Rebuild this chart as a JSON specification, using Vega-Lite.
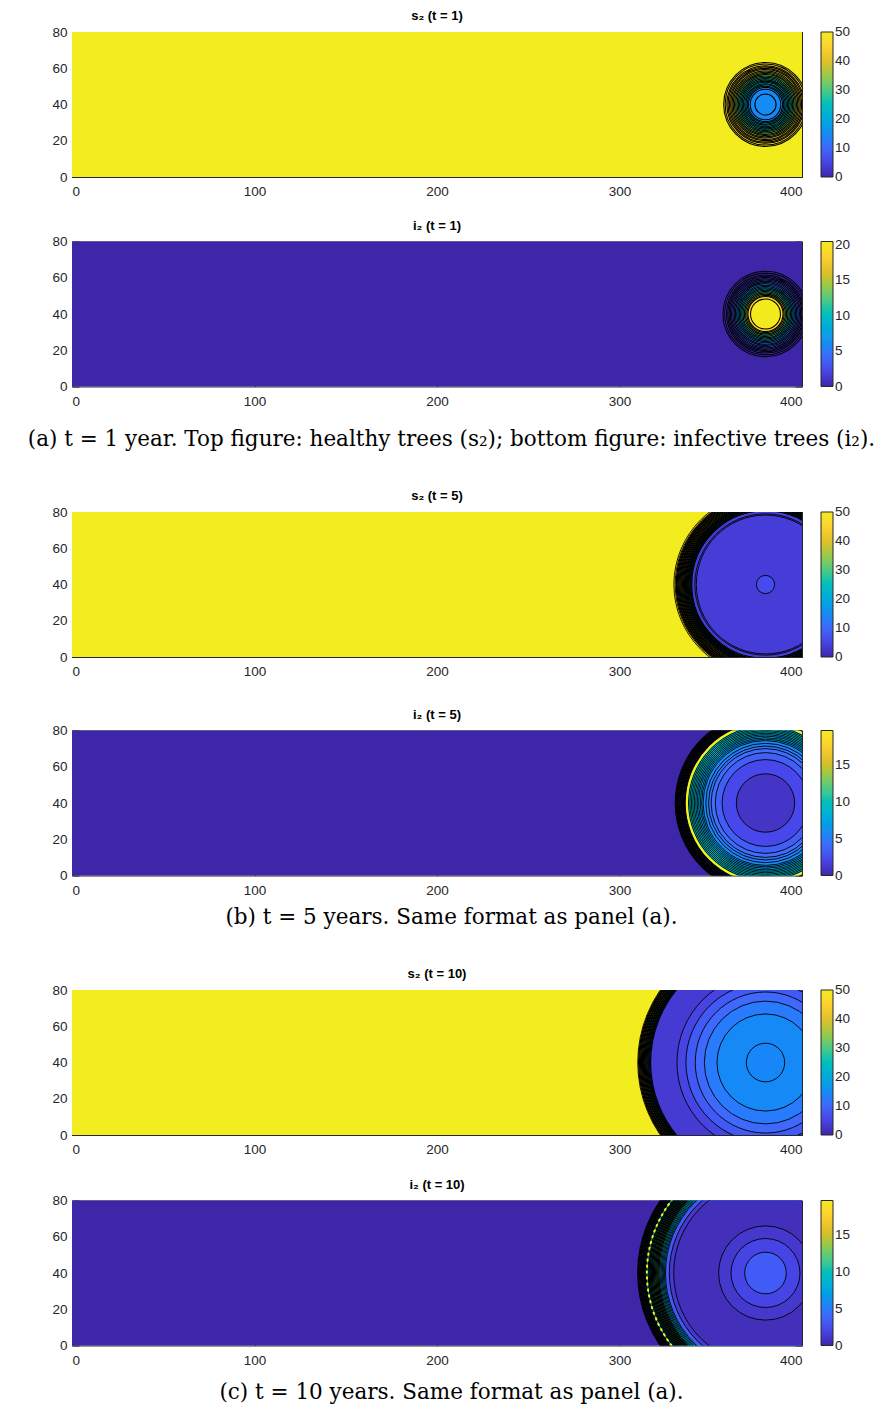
{
  "$schema": "https://vega.github.io/schema/vega-lite/v6.json",
  "background": "white",
  "padding": {"left": 27, "top": 10, "right": 5, "bottom": 5},
  "datasets": {
    "p1": [
      {"k": "bg", "x0": 0, "x1": 400, "y0": 0, "y1": 80, "v": 50},
      {"k": "disk", "cx": 380, "cy": 40, "r": 23.0, "v": 48},
      {"k": "disk", "cx": 380, "cy": 40, "r": 21.5, "v": 43},
      {"k": "disk", "cx": 380, "cy": 40, "r": 19.0, "v": 37},
      {"k": "disk", "cx": 380, "cy": 40, "r": 16.5, "v": 31},
      {"k": "disk", "cx": 380, "cy": 40, "r": 14.0, "v": 25},
      {"k": "disk", "cx": 380, "cy": 40, "r": 11.5, "v": 20},
      {"k": "disk", "cx": 380, "cy": 40, "r": 9.0, "v": 16},
      {"k": "disk", "cx": 380, "cy": 40, "r": 8.4, "v": 14},
      {"k": "disk", "cx": 380, "cy": 40, "r": 5.8, "v": 15},
      {"k": "line", "cx": 380, "cy": 40, "r": 22.9},
      {"k": "line", "cx": 380, "cy": 40, "r": 22.1},
      {"k": "line", "cx": 380, "cy": 40, "r": 21.2},
      {"k": "line", "cx": 380, "cy": 40, "r": 20.5},
      {"k": "line", "cx": 380, "cy": 40, "r": 19.8},
      {"k": "line", "cx": 380, "cy": 40, "r": 19.1},
      {"k": "line", "cx": 380, "cy": 40, "r": 18.4},
      {"k": "line", "cx": 380, "cy": 40, "r": 17.7},
      {"k": "line", "cx": 380, "cy": 40, "r": 17.0},
      {"k": "line", "cx": 380, "cy": 40, "r": 16.3},
      {"k": "line", "cx": 380, "cy": 40, "r": 15.6},
      {"k": "line", "cx": 380, "cy": 40, "r": 14.9},
      {"k": "line", "cx": 380, "cy": 40, "r": 14.2},
      {"k": "line", "cx": 380, "cy": 40, "r": 13.5},
      {"k": "line", "cx": 380, "cy": 40, "r": 12.8},
      {"k": "line", "cx": 380, "cy": 40, "r": 12.1},
      {"k": "line", "cx": 380, "cy": 40, "r": 11.4},
      {"k": "line", "cx": 380, "cy": 40, "r": 10.7},
      {"k": "line", "cx": 380, "cy": 40, "r": 10.0},
      {"k": "line", "cx": 380, "cy": 40, "r": 9.3},
      {"k": "line", "cx": 380, "cy": 40, "r": 8.4},
      {"k": "line", "cx": 380, "cy": 40, "r": 5.8}
    ],
    "p2": [
      {"k": "bg", "x0": 0, "x1": 400, "y0": 0, "y1": 80, "v": 0},
      {"k": "disk", "cx": 380, "cy": 40, "r": 23.3, "v": 0.3},
      {"k": "disk", "cx": 380, "cy": 40, "r": 21.0, "v": 1.5},
      {"k": "disk", "cx": 380, "cy": 40, "r": 18.5, "v": 4},
      {"k": "disk", "cx": 380, "cy": 40, "r": 16.0, "v": 7.5},
      {"k": "disk", "cx": 380, "cy": 40, "r": 13.5, "v": 11.5},
      {"k": "disk", "cx": 380, "cy": 40, "r": 11.0, "v": 15.5},
      {"k": "disk", "cx": 380, "cy": 40, "r": 9.6, "v": 18.5},
      {"k": "disk", "cx": 380, "cy": 40, "r": 8.2, "v": 20.4},
      {"k": "line", "cx": 380, "cy": 40, "r": 23.3},
      {"k": "line", "cx": 380, "cy": 40, "r": 22.4},
      {"k": "line", "cx": 380, "cy": 40, "r": 21.4},
      {"k": "line", "cx": 380, "cy": 40, "r": 20.7},
      {"k": "line", "cx": 380, "cy": 40, "r": 20.0},
      {"k": "line", "cx": 380, "cy": 40, "r": 19.3},
      {"k": "line", "cx": 380, "cy": 40, "r": 18.6},
      {"k": "line", "cx": 380, "cy": 40, "r": 17.9},
      {"k": "line", "cx": 380, "cy": 40, "r": 17.2},
      {"k": "line", "cx": 380, "cy": 40, "r": 16.5},
      {"k": "line", "cx": 380, "cy": 40, "r": 15.8},
      {"k": "line", "cx": 380, "cy": 40, "r": 15.1},
      {"k": "line", "cx": 380, "cy": 40, "r": 14.4},
      {"k": "line", "cx": 380, "cy": 40, "r": 13.7},
      {"k": "line", "cx": 380, "cy": 40, "r": 13.0},
      {"k": "line", "cx": 380, "cy": 40, "r": 12.3},
      {"k": "line", "cx": 380, "cy": 40, "r": 11.6},
      {"k": "line", "cx": 380, "cy": 40, "r": 10.9},
      {"k": "line", "cx": 380, "cy": 40, "r": 10.2},
      {"k": "line", "cx": 380, "cy": 40, "r": 9.6},
      {"k": "line", "cx": 380, "cy": 40, "r": 8.2}
    ],
    "p3": [
      {"k": "bg", "x0": 0, "x1": 400, "y0": 0, "y1": 80, "v": 50},
      {"k": "disk", "cx": 380, "cy": 40, "r": 50.2, "v": 47},
      {"k": "disk", "cx": 380, "cy": 40, "r": 47.0, "v": 38},
      {"k": "disk", "cx": 380, "cy": 40, "r": 44.0, "v": 22},
      {"k": "disk", "cx": 380, "cy": 40, "r": 41.5, "v": 10},
      {"k": "disk", "cx": 380, "cy": 40, "r": 40.0, "v": 4},
      {"k": "disk", "cx": 380, "cy": 40, "r": 5.0, "v": 6},
      {"k": "line", "cx": 380, "cy": 40, "r": 50.2},
      {"k": "line", "cx": 380, "cy": 40, "r": 49.5},
      {"k": "dense", "cx": 380, "cy": 40, "r": 48.9},
      {"k": "dense", "cx": 380, "cy": 40, "r": 48.4},
      {"k": "dense", "cx": 380, "cy": 40, "r": 47.9},
      {"k": "dense", "cx": 380, "cy": 40, "r": 47.4},
      {"k": "dense", "cx": 380, "cy": 40, "r": 46.9},
      {"k": "dense", "cx": 380, "cy": 40, "r": 46.4},
      {"k": "dense", "cx": 380, "cy": 40, "r": 45.9},
      {"k": "dense", "cx": 380, "cy": 40, "r": 45.4},
      {"k": "dense", "cx": 380, "cy": 40, "r": 44.9},
      {"k": "dense", "cx": 380, "cy": 40, "r": 44.4},
      {"k": "dense", "cx": 380, "cy": 40, "r": 43.9},
      {"k": "dense", "cx": 380, "cy": 40, "r": 43.4},
      {"k": "dense", "cx": 380, "cy": 40, "r": 42.9},
      {"k": "dense", "cx": 380, "cy": 40, "r": 42.4},
      {"k": "dense", "cx": 380, "cy": 40, "r": 41.9},
      {"k": "dense", "cx": 380, "cy": 40, "r": 41.4},
      {"k": "dense", "cx": 380, "cy": 40, "r": 40.9},
      {"k": "dense", "cx": 380, "cy": 40, "r": 40.4},
      {"k": "line", "cx": 380, "cy": 40, "r": 38.7},
      {"k": "line", "cx": 380, "cy": 40, "r": 37.9},
      {"k": "line", "cx": 380, "cy": 40, "r": 5.0}
    ],
    "p4": [
      {"k": "bg", "x0": 0, "x1": 400, "y0": 0, "y1": 80, "v": 0},
      {"k": "disk", "cx": 380, "cy": 40, "r": 49.5, "v": 0.6},
      {"k": "disk", "cx": 380, "cy": 40, "r": 46.0, "v": 2},
      {"k": "disk", "cx": 380, "cy": 40, "r": 43.5, "v": 12},
      {"k": "disk", "cx": 380, "cy": 40, "r": 42.5, "v": 9.5},
      {"k": "disk", "cx": 380, "cy": 40, "r": 38.0, "v": 7.5},
      {"k": "disk", "cx": 380, "cy": 40, "r": 34.5, "v": 5.8},
      {"k": "disk", "cx": 380, "cy": 40, "r": 32.7, "v": 5.0},
      {"k": "disk", "cx": 380, "cy": 40, "r": 30.3, "v": 4.3},
      {"k": "disk", "cx": 380, "cy": 40, "r": 27.5, "v": 3.4},
      {"k": "disk", "cx": 380, "cy": 40, "r": 23.8, "v": 2.2},
      {"k": "disk", "cx": 380, "cy": 40, "r": 16.0, "v": 1.0},
      {"k": "dense", "cx": 380, "cy": 40, "r": 49.4},
      {"k": "dense", "cx": 380, "cy": 40, "r": 48.9},
      {"k": "dense", "cx": 380, "cy": 40, "r": 48.4},
      {"k": "dense", "cx": 380, "cy": 40, "r": 47.9},
      {"k": "dense", "cx": 380, "cy": 40, "r": 47.4},
      {"k": "dense", "cx": 380, "cy": 40, "r": 46.9},
      {"k": "dense", "cx": 380, "cy": 40, "r": 46.4},
      {"k": "dense", "cx": 380, "cy": 40, "r": 45.9},
      {"k": "dense", "cx": 380, "cy": 40, "r": 45.4},
      {"k": "dense", "cx": 380, "cy": 40, "r": 44.9},
      {"k": "dense", "cx": 380, "cy": 40, "r": 44.4},
      {"k": "dense", "cx": 380, "cy": 40, "r": 43.9},
      {"k": "line", "cx": 380, "cy": 40, "r": 42.2},
      {"k": "line", "cx": 380, "cy": 40, "r": 41.4},
      {"k": "line", "cx": 380, "cy": 40, "r": 40.6},
      {"k": "line", "cx": 380, "cy": 40, "r": 39.8},
      {"k": "line", "cx": 380, "cy": 40, "r": 39.0},
      {"k": "line", "cx": 380, "cy": 40, "r": 38.2},
      {"k": "line", "cx": 380, "cy": 40, "r": 37.4},
      {"k": "line", "cx": 380, "cy": 40, "r": 36.6},
      {"k": "line", "cx": 380, "cy": 40, "r": 35.8},
      {"k": "line", "cx": 380, "cy": 40, "r": 35.0},
      {"k": "line", "cx": 380, "cy": 40, "r": 34.2},
      {"k": "line", "cx": 380, "cy": 40, "r": 32.7},
      {"k": "line", "cx": 380, "cy": 40, "r": 31.2},
      {"k": "line", "cx": 380, "cy": 40, "r": 29.8},
      {"k": "line", "cx": 380, "cy": 40, "r": 27.5},
      {"k": "line", "cx": 380, "cy": 40, "r": 23.8},
      {"k": "line", "cx": 380, "cy": 40, "r": 16.0},
      {"k": "yel", "cx": 380, "cy": 40, "r": 43.1}
    ],
    "p5": [
      {"k": "bg", "x0": 0, "x1": 400, "y0": 0, "y1": 80, "v": 50},
      {"k": "disk", "cx": 380, "cy": 40, "r": 70.0, "v": 46},
      {"k": "disk", "cx": 380, "cy": 40, "r": 67.0, "v": 30},
      {"k": "disk", "cx": 380, "cy": 40, "r": 64.5, "v": 12},
      {"k": "disk", "cx": 380, "cy": 40, "r": 63.0, "v": 3.5},
      {"k": "disk", "cx": 380, "cy": 40, "r": 48.5, "v": 5},
      {"k": "disk", "cx": 380, "cy": 40, "r": 43.6, "v": 8},
      {"k": "disk", "cx": 380, "cy": 40, "r": 38.5, "v": 10},
      {"k": "disk", "cx": 380, "cy": 40, "r": 33.5, "v": 12.5},
      {"k": "disk", "cx": 380, "cy": 40, "r": 26.6, "v": 14.5},
      {"k": "disk", "cx": 380, "cy": 40, "r": 10.5, "v": 14},
      {"k": "line", "cx": 380, "cy": 40, "r": 70.0},
      {"k": "dense", "cx": 380, "cy": 40, "r": 69.5},
      {"k": "dense", "cx": 380, "cy": 40, "r": 69.0},
      {"k": "dense", "cx": 380, "cy": 40, "r": 68.5},
      {"k": "dense", "cx": 380, "cy": 40, "r": 68.0},
      {"k": "dense", "cx": 380, "cy": 40, "r": 67.5},
      {"k": "dense", "cx": 380, "cy": 40, "r": 67.0},
      {"k": "dense", "cx": 380, "cy": 40, "r": 66.5},
      {"k": "dense", "cx": 380, "cy": 40, "r": 66.0},
      {"k": "dense", "cx": 380, "cy": 40, "r": 65.5},
      {"k": "dense", "cx": 380, "cy": 40, "r": 65.0},
      {"k": "dense", "cx": 380, "cy": 40, "r": 64.5},
      {"k": "dense", "cx": 380, "cy": 40, "r": 64.0},
      {"k": "dense", "cx": 380, "cy": 40, "r": 63.5},
      {"k": "dense", "cx": 380, "cy": 40, "r": 63.0},
      {"k": "line", "cx": 380, "cy": 40, "r": 48.5},
      {"k": "line", "cx": 380, "cy": 40, "r": 43.6},
      {"k": "line", "cx": 380, "cy": 40, "r": 38.5},
      {"k": "line", "cx": 380, "cy": 40, "r": 33.5},
      {"k": "line", "cx": 380, "cy": 40, "r": 26.6},
      {"k": "line", "cx": 380, "cy": 40, "r": 10.5}
    ],
    "p6": [
      {"k": "bg", "x0": 0, "x1": 400, "y0": 0, "y1": 80, "v": 0},
      {"k": "disk", "cx": 380, "cy": 40, "r": 70.0, "v": 0.5},
      {"k": "disk", "cx": 380, "cy": 40, "r": 67.0, "v": 2.5},
      {"k": "disk", "cx": 380, "cy": 40, "r": 65.5, "v": 10},
      {"k": "disk", "cx": 380, "cy": 40, "r": 62.0, "v": 12},
      {"k": "disk", "cx": 380, "cy": 40, "r": 58.0, "v": 8},
      {"k": "disk", "cx": 380, "cy": 40, "r": 55.0, "v": 3},
      {"k": "disk", "cx": 380, "cy": 40, "r": 52.7, "v": 1.2},
      {"k": "disk", "cx": 380, "cy": 40, "r": 50.3, "v": 0.6},
      {"k": "disk", "cx": 380, "cy": 40, "r": 25.7, "v": 1.2},
      {"k": "disk", "cx": 380, "cy": 40, "r": 18.9, "v": 2.0},
      {"k": "disk", "cx": 380, "cy": 40, "r": 11.4, "v": 3.3},
      {"k": "dense", "cx": 380, "cy": 40, "r": 70.0},
      {"k": "dense", "cx": 380, "cy": 40, "r": 69.5},
      {"k": "dense", "cx": 380, "cy": 40, "r": 69.0},
      {"k": "dense", "cx": 380, "cy": 40, "r": 68.5},
      {"k": "dense", "cx": 380, "cy": 40, "r": 68.0},
      {"k": "dense", "cx": 380, "cy": 40, "r": 67.5},
      {"k": "dense", "cx": 380, "cy": 40, "r": 67.0},
      {"k": "dense", "cx": 380, "cy": 40, "r": 66.5},
      {"k": "dense", "cx": 380, "cy": 40, "r": 66.0},
      {"k": "dense", "cx": 380, "cy": 40, "r": 65.5},
      {"k": "dense", "cx": 380, "cy": 40, "r": 64.4},
      {"k": "dense", "cx": 380, "cy": 40, "r": 63.8},
      {"k": "dense", "cx": 380, "cy": 40, "r": 63.2},
      {"k": "dense", "cx": 380, "cy": 40, "r": 62.6},
      {"k": "dense", "cx": 380, "cy": 40, "r": 62.0},
      {"k": "dense", "cx": 380, "cy": 40, "r": 61.4},
      {"k": "dense", "cx": 380, "cy": 40, "r": 60.8},
      {"k": "dense", "cx": 380, "cy": 40, "r": 60.2},
      {"k": "dense", "cx": 380, "cy": 40, "r": 59.6},
      {"k": "dense", "cx": 380, "cy": 40, "r": 59.0},
      {"k": "dense", "cx": 380, "cy": 40, "r": 58.4},
      {"k": "line", "cx": 380, "cy": 40, "r": 57.8},
      {"k": "line", "cx": 380, "cy": 40, "r": 57.2},
      {"k": "line", "cx": 380, "cy": 40, "r": 56.6},
      {"k": "line", "cx": 380, "cy": 40, "r": 56.0},
      {"k": "line", "cx": 380, "cy": 40, "r": 55.4},
      {"k": "line", "cx": 380, "cy": 40, "r": 54.8},
      {"k": "line", "cx": 380, "cy": 40, "r": 52.7},
      {"k": "line", "cx": 380, "cy": 40, "r": 50.3},
      {"k": "line", "cx": 380, "cy": 40, "r": 25.7},
      {"k": "line", "cx": 380, "cy": 40, "r": 18.9},
      {"k": "line", "cx": 380, "cy": 40, "r": 11.4},
      {"k": "ydash", "cx": 380, "cy": 40, "r": 65.0}
    ]
  },
  "spacing": 39,
  "resolve": {"scale": {"color": "independent", "x": "independent", "y": "independent", "size": "independent"}, "legend": {"color": "independent"}},
  "vconcat": [
    {
      "title": {"text": "(a) t = 1 year. Top figure: healthy trees (s₂); bottom figure: infective trees (i₂).", "orient": "bottom", "offset": 21.5, "font": "DejaVu Serif", "fontSize": 21.5, "fontWeight": "normal"},
      "spacing": 21.5,
      "resolve": {"scale": {"color": "independent", "x": "independent", "y": "independent", "size": "independent"}, "legend": {"color": "independent"}},
      "vconcat": [
        {
          "width": 730, "height": 145,
          "title": "s₂ (t = 1)",
          "data": {"name": "p1"},
          "resolve": {"axis": {"x": "independent", "y": "independent"}},
          "layer": [
            {"transform": [{"filter": "datum.k === 'bg'"}], "mark": {"type": "rect"},
             "encoding": {
               "x": {"field": "x0", "type": "quantitative", "scale": {"domain": [0, 400], "nice": false, "zero": false}, "axis": {"orient": "bottom", "values": [0, 100, 200, 300, 400], "title": null}},
               "x2": {"field": "x1"},
               "y": {"field": "y0", "type": "quantitative", "scale": {"domain": [0, 80], "nice": false, "zero": false}, "axis": {"orient": "left", "values": [0, 20, 40, 60, 80], "title": null}},
               "y2": {"field": "y1"},
               "color": {"field": "v", "type": "quantitative", "scale": {"domain": [0, 5.556, 11.111, 16.667, 22.222, 27.778, 33.333, 38.889, 44.444, 50], "range": ["#3E26A8", "#4747EB", "#3E6FFF", "#2796EB", "#08B5D0", "#31C69F", "#80CC59", "#DCBD29", "#FCCF30", "#F3EC1E"], "clamp": true}, "legend": {"values": [0, 10, 20, 30, 40, 50], "title": null, "encode": {"labels": {"update": {"baseline": {"value": "middle"}}}}}}
             }},
            {"transform": [{"filter": "datum.k === 'disk'"}], "mark": {"type": "point", "shape": "circle", "filled": true, "opacity": 1, "strokeWidth": 0, "clip": true},
             "encoding": {
               "x": {"field": "cx", "type": "quantitative", "scale": {"domain": [0, 400], "nice": false, "zero": false}, "axis": {"orient": "top", "labels": false, "values": [0, 100, 200, 300, 400], "title": null}},
               "y": {"field": "cy", "type": "quantitative", "scale": {"domain": [0, 80], "nice": false, "zero": false}, "axis": {"orient": "right", "labels": false, "values": [0, 20, 40, 60, 80], "title": null}},
               "size": {"field": "r", "type": "quantitative", "scale": {"type": "pow", "exponent": 2, "domain": [0, 100], "range": [0, 133225]}, "legend": null},
               "color": {"field": "v", "type": "quantitative"}
             }},
            {"transform": [{"filter": "datum.k === 'line'"}], "mark": {"type": "point", "shape": "circle", "filled": false, "opacity": 1, "stroke": "#000000", "strokeWidth": 1.05, "clip": true},
             "encoding": {
               "x": {"field": "cx", "type": "quantitative", "axis": null},
               "y": {"field": "cy", "type": "quantitative", "axis": null},
               "size": {"field": "r", "type": "quantitative", "legend": null}
             }}
          ]
        },
        {
          "width": 730, "height": 145,
          "title": "i₂ (t = 1)",
          "data": {"name": "p2"},
          "resolve": {"axis": {"x": "independent", "y": "independent"}},
          "layer": [
            {"transform": [{"filter": "datum.k === 'bg'"}], "mark": {"type": "rect"},
             "encoding": {
               "x": {"field": "x0", "type": "quantitative", "scale": {"domain": [0, 400], "nice": false, "zero": false}, "axis": {"orient": "bottom", "values": [0, 100, 200, 300, 400], "title": null}},
               "x2": {"field": "x1"},
               "y": {"field": "y0", "type": "quantitative", "scale": {"domain": [0, 80], "nice": false, "zero": false}, "axis": {"orient": "left", "values": [0, 20, 40, 60, 80], "title": null}},
               "y2": {"field": "y1"},
               "color": {"field": "v", "type": "quantitative", "scale": {"domain": [0, 2.272, 4.544, 6.817, 9.089, 11.361, 13.633, 15.906, 18.178, 20.45], "range": ["#3E26A8", "#4747EB", "#3E6FFF", "#2796EB", "#08B5D0", "#31C69F", "#80CC59", "#DCBD29", "#FCCF30", "#F3EC1E"], "clamp": true}, "legend": {"values": [0, 5, 10, 15, 20], "title": null, "encode": {"labels": {"update": {"baseline": {"value": "middle"}}}}}}
             }},
            {"transform": [{"filter": "datum.k === 'disk'"}], "mark": {"type": "point", "shape": "circle", "filled": true, "opacity": 1, "strokeWidth": 0, "clip": true},
             "encoding": {
               "x": {"field": "cx", "type": "quantitative", "scale": {"domain": [0, 400], "nice": false, "zero": false}, "axis": {"orient": "top", "labels": false, "values": [0, 100, 200, 300, 400], "title": null}},
               "y": {"field": "cy", "type": "quantitative", "scale": {"domain": [0, 80], "nice": false, "zero": false}, "axis": {"orient": "right", "labels": false, "values": [0, 20, 40, 60, 80], "title": null}},
               "size": {"field": "r", "type": "quantitative", "scale": {"type": "pow", "exponent": 2, "domain": [0, 100], "range": [0, 133225]}, "legend": null},
               "color": {"field": "v", "type": "quantitative"}
             }},
            {"transform": [{"filter": "datum.k === 'line'"}], "mark": {"type": "point", "shape": "circle", "filled": false, "opacity": 1, "stroke": "#000000", "strokeWidth": 1.05, "clip": true},
             "encoding": {
               "x": {"field": "cx", "type": "quantitative", "axis": null},
               "y": {"field": "cy", "type": "quantitative", "axis": null},
               "size": {"field": "r", "type": "quantitative", "legend": null}
             }}
          ]
        }
      ]
    },
    {
      "title": {"text": "(b) t = 5 years. Same format as panel (a).", "orient": "bottom", "offset": 10.5, "font": "DejaVu Serif", "fontSize": 21.5, "fontWeight": "normal"},
      "spacing": 30.5,
      "resolve": {"scale": {"color": "independent", "x": "independent", "y": "independent", "size": "independent"}, "legend": {"color": "independent"}},
      "vconcat": [
        {
          "width": 730, "height": 145,
          "title": "s₂ (t = 5)",
          "data": {"name": "p3"},
          "resolve": {"axis": {"x": "independent", "y": "independent"}},
          "layer": [
            {"transform": [{"filter": "datum.k === 'bg'"}], "mark": {"type": "rect"},
             "encoding": {
               "x": {"field": "x0", "type": "quantitative", "scale": {"domain": [0, 400], "nice": false, "zero": false}, "axis": {"orient": "bottom", "values": [0, 100, 200, 300, 400], "title": null}},
               "x2": {"field": "x1"},
               "y": {"field": "y0", "type": "quantitative", "scale": {"domain": [0, 80], "nice": false, "zero": false}, "axis": {"orient": "left", "values": [0, 20, 40, 60, 80], "title": null}},
               "y2": {"field": "y1"},
               "color": {"field": "v", "type": "quantitative", "scale": {"domain": [0, 5.556, 11.111, 16.667, 22.222, 27.778, 33.333, 38.889, 44.444, 50], "range": ["#3E26A8", "#4747EB", "#3E6FFF", "#2796EB", "#08B5D0", "#31C69F", "#80CC59", "#DCBD29", "#FCCF30", "#F3EC1E"], "clamp": true}, "legend": {"values": [0, 10, 20, 30, 40, 50], "title": null, "encode": {"labels": {"update": {"baseline": {"value": "middle"}}}}}}
             }},
            {"transform": [{"filter": "datum.k === 'disk'"}], "mark": {"type": "point", "shape": "circle", "filled": true, "opacity": 1, "strokeWidth": 0, "clip": true},
             "encoding": {
               "x": {"field": "cx", "type": "quantitative", "scale": {"domain": [0, 400], "nice": false, "zero": false}, "axis": {"orient": "top", "labels": false, "values": [0, 100, 200, 300, 400], "title": null}},
               "y": {"field": "cy", "type": "quantitative", "scale": {"domain": [0, 80], "nice": false, "zero": false}, "axis": {"orient": "right", "labels": false, "values": [0, 20, 40, 60, 80], "title": null}},
               "size": {"field": "r", "type": "quantitative", "scale": {"type": "pow", "exponent": 2, "domain": [0, 100], "range": [0, 133225]}, "legend": null},
               "color": {"field": "v", "type": "quantitative"}
             }},
            {"transform": [{"filter": "datum.k === 'line'"}], "mark": {"type": "point", "shape": "circle", "filled": false, "opacity": 1, "stroke": "#000000", "strokeWidth": 0.9, "clip": true},
             "encoding": {
               "x": {"field": "cx", "type": "quantitative", "axis": null},
               "y": {"field": "cy", "type": "quantitative", "axis": null},
               "size": {"field": "r", "type": "quantitative", "legend": null}
             }},
            {"transform": [{"filter": "datum.k === 'dense'"}], "mark": {"type": "point", "shape": "circle", "filled": false, "opacity": 1, "stroke": "#000000", "strokeWidth": 1.3, "clip": true},
             "encoding": {
               "x": {"field": "cx", "type": "quantitative", "axis": null},
               "y": {"field": "cy", "type": "quantitative", "axis": null},
               "size": {"field": "r", "type": "quantitative", "legend": null}
             }}
          ]
        },
        {
          "width": 730, "height": 145,
          "title": "i₂ (t = 5)",
          "data": {"name": "p4"},
          "resolve": {"axis": {"x": "independent", "y": "independent"}},
          "layer": [
            {"transform": [{"filter": "datum.k === 'bg'"}], "mark": {"type": "rect"},
             "encoding": {
               "x": {"field": "x0", "type": "quantitative", "scale": {"domain": [0, 400], "nice": false, "zero": false}, "axis": {"orient": "bottom", "values": [0, 100, 200, 300, 400], "title": null}},
               "x2": {"field": "x1"},
               "y": {"field": "y0", "type": "quantitative", "scale": {"domain": [0, 80], "nice": false, "zero": false}, "axis": {"orient": "left", "values": [0, 20, 40, 60, 80], "title": null}},
               "y2": {"field": "y1"},
               "color": {"field": "v", "type": "quantitative", "scale": {"domain": [0, 2.183, 4.367, 6.55, 8.733, 10.917, 13.1, 15.283, 17.467, 19.65], "range": ["#3E26A8", "#4747EB", "#3E6FFF", "#2796EB", "#08B5D0", "#31C69F", "#80CC59", "#DCBD29", "#FCCF30", "#F3EC1E"], "clamp": true}, "legend": {"values": [0, 5, 10, 15], "title": null, "encode": {"labels": {"update": {"baseline": {"value": "middle"}}}}}}
             }},
            {"transform": [{"filter": "datum.k === 'disk'"}], "mark": {"type": "point", "shape": "circle", "filled": true, "opacity": 1, "strokeWidth": 0, "clip": true},
             "encoding": {
               "x": {"field": "cx", "type": "quantitative", "scale": {"domain": [0, 400], "nice": false, "zero": false}, "axis": {"orient": "top", "labels": false, "values": [0, 100, 200, 300, 400], "title": null}},
               "y": {"field": "cy", "type": "quantitative", "scale": {"domain": [0, 80], "nice": false, "zero": false}, "axis": {"orient": "right", "labels": false, "values": [0, 20, 40, 60, 80], "title": null}},
               "size": {"field": "r", "type": "quantitative", "scale": {"type": "pow", "exponent": 2, "domain": [0, 100], "range": [0, 133225]}, "legend": null},
               "color": {"field": "v", "type": "quantitative"}
             }},
            {"transform": [{"filter": "datum.k === 'line'"}], "mark": {"type": "point", "shape": "circle", "filled": false, "opacity": 1, "stroke": "#000000", "strokeWidth": 0.9, "clip": true},
             "encoding": {
               "x": {"field": "cx", "type": "quantitative", "axis": null},
               "y": {"field": "cy", "type": "quantitative", "axis": null},
               "size": {"field": "r", "type": "quantitative", "legend": null}
             }},
            {"transform": [{"filter": "datum.k === 'dense'"}], "mark": {"type": "point", "shape": "circle", "filled": false, "opacity": 1, "stroke": "#000000", "strokeWidth": 1.3, "clip": true},
             "encoding": {
               "x": {"field": "cx", "type": "quantitative", "axis": null},
               "y": {"field": "cy", "type": "quantitative", "axis": null},
               "size": {"field": "r", "type": "quantitative", "legend": null}
             }},
            {"transform": [{"filter": "datum.k === 'yel'"}], "mark": {"type": "point", "shape": "circle", "filled": false, "opacity": 1, "stroke": "#F9F215", "strokeWidth": 2.2, "clip": true},
             "encoding": {
               "x": {"field": "cx", "type": "quantitative", "axis": null},
               "y": {"field": "cy", "type": "quantitative", "axis": null},
               "size": {"field": "r", "type": "quantitative", "legend": null}
             }}
          ]
        }
      ]
    },
    {
      "title": {"text": "(c) t = 10 years. Same format as panel (a).", "orient": "bottom", "offset": 15.5, "font": "DejaVu Serif", "fontSize": 21.5, "fontWeight": "normal"},
      "spacing": 22.5,
      "resolve": {"scale": {"color": "independent", "x": "independent", "y": "independent", "size": "independent"}, "legend": {"color": "independent"}},
      "vconcat": [
        {
          "width": 730, "height": 145,
          "title": "s₂ (t = 10)",
          "data": {"name": "p5"},
          "resolve": {"axis": {"x": "independent", "y": "independent"}},
          "layer": [
            {"transform": [{"filter": "datum.k === 'bg'"}], "mark": {"type": "rect"},
             "encoding": {
               "x": {"field": "x0", "type": "quantitative", "scale": {"domain": [0, 400], "nice": false, "zero": false}, "axis": {"orient": "bottom", "values": [0, 100, 200, 300, 400], "title": null}},
               "x2": {"field": "x1"},
               "y": {"field": "y0", "type": "quantitative", "scale": {"domain": [0, 80], "nice": false, "zero": false}, "axis": {"orient": "left", "values": [0, 20, 40, 60, 80], "title": null}},
               "y2": {"field": "y1"},
               "color": {"field": "v", "type": "quantitative", "scale": {"domain": [0, 5.556, 11.111, 16.667, 22.222, 27.778, 33.333, 38.889, 44.444, 50], "range": ["#3E26A8", "#4747EB", "#3E6FFF", "#2796EB", "#08B5D0", "#31C69F", "#80CC59", "#DCBD29", "#FCCF30", "#F3EC1E"], "clamp": true}, "legend": {"values": [0, 10, 20, 30, 40, 50], "title": null, "encode": {"labels": {"update": {"baseline": {"value": "middle"}}}}}}
             }},
            {"transform": [{"filter": "datum.k === 'disk'"}], "mark": {"type": "point", "shape": "circle", "filled": true, "opacity": 1, "strokeWidth": 0, "clip": true},
             "encoding": {
               "x": {"field": "cx", "type": "quantitative", "scale": {"domain": [0, 400], "nice": false, "zero": false}, "axis": {"orient": "top", "labels": false, "values": [0, 100, 200, 300, 400], "title": null}},
               "y": {"field": "cy", "type": "quantitative", "scale": {"domain": [0, 80], "nice": false, "zero": false}, "axis": {"orient": "right", "labels": false, "values": [0, 20, 40, 60, 80], "title": null}},
               "size": {"field": "r", "type": "quantitative", "scale": {"type": "pow", "exponent": 2, "domain": [0, 100], "range": [0, 133225]}, "legend": null},
               "color": {"field": "v", "type": "quantitative"}
             }},
            {"transform": [{"filter": "datum.k === 'line'"}], "mark": {"type": "point", "shape": "circle", "filled": false, "opacity": 1, "stroke": "#000000", "strokeWidth": 0.9, "clip": true},
             "encoding": {
               "x": {"field": "cx", "type": "quantitative", "axis": null},
               "y": {"field": "cy", "type": "quantitative", "axis": null},
               "size": {"field": "r", "type": "quantitative", "legend": null}
             }},
            {"transform": [{"filter": "datum.k === 'dense'"}], "mark": {"type": "point", "shape": "circle", "filled": false, "opacity": 1, "stroke": "#000000", "strokeWidth": 1.3, "clip": true},
             "encoding": {
               "x": {"field": "cx", "type": "quantitative", "axis": null},
               "y": {"field": "cy", "type": "quantitative", "axis": null},
               "size": {"field": "r", "type": "quantitative", "legend": null}
             }}
          ]
        },
        {
          "width": 730, "height": 145,
          "title": "i₂ (t = 10)",
          "data": {"name": "p6"},
          "resolve": {"axis": {"x": "independent", "y": "independent"}},
          "layer": [
            {"transform": [{"filter": "datum.k === 'bg'"}], "mark": {"type": "rect"},
             "encoding": {
               "x": {"field": "x0", "type": "quantitative", "scale": {"domain": [0, 400], "nice": false, "zero": false}, "axis": {"orient": "bottom", "values": [0, 100, 200, 300, 400], "title": null}},
               "x2": {"field": "x1"},
               "y": {"field": "y0", "type": "quantitative", "scale": {"domain": [0, 80], "nice": false, "zero": false}, "axis": {"orient": "left", "values": [0, 20, 40, 60, 80], "title": null}},
               "y2": {"field": "y1"},
               "color": {"field": "v", "type": "quantitative", "scale": {"domain": [0, 2.194, 4.389, 6.583, 8.778, 10.972, 13.167, 15.361, 17.556, 19.75], "range": ["#3E26A8", "#4747EB", "#3E6FFF", "#2796EB", "#08B5D0", "#31C69F", "#80CC59", "#DCBD29", "#FCCF30", "#F3EC1E"], "clamp": true}, "legend": {"values": [0, 5, 10, 15], "title": null, "encode": {"labels": {"update": {"baseline": {"value": "middle"}}}}}}
             }},
            {"transform": [{"filter": "datum.k === 'disk'"}], "mark": {"type": "point", "shape": "circle", "filled": true, "opacity": 1, "strokeWidth": 0, "clip": true},
             "encoding": {
               "x": {"field": "cx", "type": "quantitative", "scale": {"domain": [0, 400], "nice": false, "zero": false}, "axis": {"orient": "top", "labels": false, "values": [0, 100, 200, 300, 400], "title": null}},
               "y": {"field": "cy", "type": "quantitative", "scale": {"domain": [0, 80], "nice": false, "zero": false}, "axis": {"orient": "right", "labels": false, "values": [0, 20, 40, 60, 80], "title": null}},
               "size": {"field": "r", "type": "quantitative", "scale": {"type": "pow", "exponent": 2, "domain": [0, 100], "range": [0, 133225]}, "legend": null},
               "color": {"field": "v", "type": "quantitative"}
             }},
            {"transform": [{"filter": "datum.k === 'line'"}], "mark": {"type": "point", "shape": "circle", "filled": false, "opacity": 1, "stroke": "#000000", "strokeWidth": 0.9, "clip": true},
             "encoding": {
               "x": {"field": "cx", "type": "quantitative", "axis": null},
               "y": {"field": "cy", "type": "quantitative", "axis": null},
               "size": {"field": "r", "type": "quantitative", "legend": null}
             }},
            {"transform": [{"filter": "datum.k === 'dense'"}], "mark": {"type": "point", "shape": "circle", "filled": false, "opacity": 1, "stroke": "#000000", "strokeWidth": 1.3, "clip": true},
             "encoding": {
               "x": {"field": "cx", "type": "quantitative", "axis": null},
               "y": {"field": "cy", "type": "quantitative", "axis": null},
               "size": {"field": "r", "type": "quantitative", "legend": null}
             }},
            {"transform": [{"filter": "datum.k === 'ydash'"}], "mark": {"type": "point", "shape": "circle", "filled": false, "opacity": 1, "stroke": "#F9F215", "strokeWidth": 2, "strokeDash": [3, 3], "clip": true},
             "encoding": {
               "x": {"field": "cx", "type": "quantitative", "axis": null},
               "y": {"field": "cy", "type": "quantitative", "axis": null},
               "size": {"field": "r", "type": "quantitative", "legend": null}
             }}
          ]
        }
      ]
    }
  ],
  "config": {
    "font": "Liberation Sans",
    "view": {"stroke": null},
    "axis": {"grid": false, "domainColor": "#262626", "domainWidth": 1, "tickColor": "#262626", "tickWidth": 1, "tickSize": -7, "labelColor": "#262626", "labelFont": "Liberation Sans", "labelFontSize": 13.5, "labelPadding": 12, "zindex": 1},
    "axisX": {"labelPadding": 14.5},
    "legend": {"gradientLength": 145, "gradientThickness": 12, "offset": 18, "padding": 0, "labelFont": "Liberation Sans", "labelFontSize": 13.5, "labelColor": "#262626", "labelOffset": 4, "labelOverlap": false, "gradientStrokeColor": "#262626", "gradientStrokeWidth": 1},
    "title": {"font": "Liberation Sans", "fontSize": 13, "fontWeight": "bold", "color": "#000000", "offset": 2, "anchor": "middle"}
  }
}
